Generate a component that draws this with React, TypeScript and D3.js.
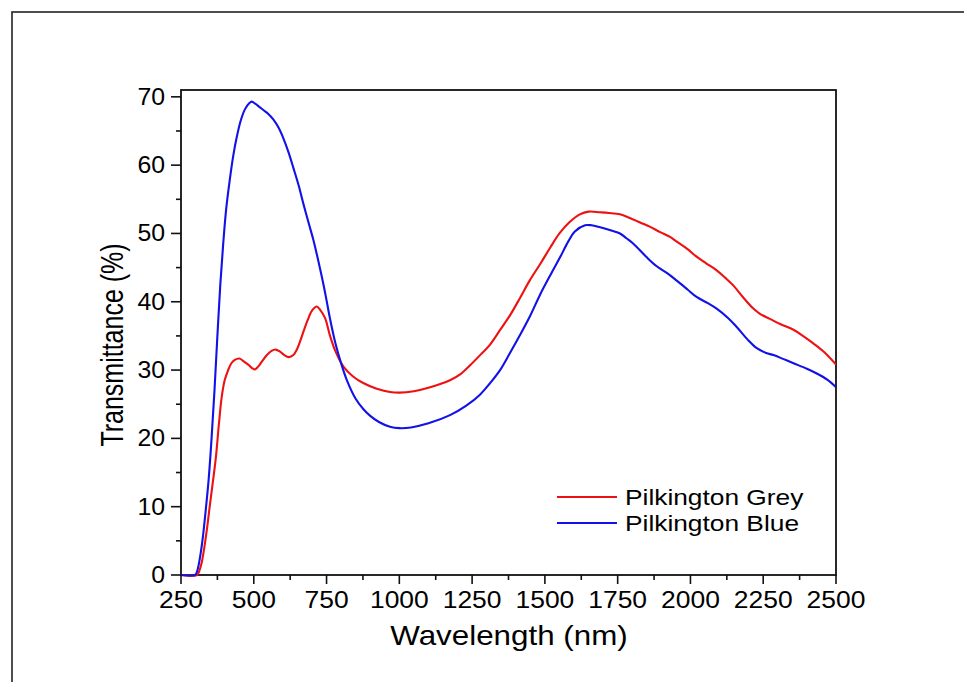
import React from "react";
import * as d3 from "d3";

// ---- data ----
const blueWavelength = [250, 298, 305, 315, 325, 335, 345, 355, 365, 375, 385, 395, 405, 418, 430, 441, 455, 470, 485, 493, 505, 520, 535, 550, 567, 585, 601, 620, 636, 655, 670, 690, 705, 720, 739, 750, 762, 780, 800, 820, 850, 876, 900, 930, 968, 1000, 1040, 1100, 1174, 1230, 1277, 1310, 1346, 1380, 1414, 1450, 1483, 1520, 1552, 1580, 1603, 1638, 1660, 1690, 1731, 1758, 1780, 1804, 1850, 1884, 1920, 1953, 1990, 2021, 2060, 2090, 2130, 2159, 2200, 2228, 2260, 2285, 2320, 2354, 2400, 2434, 2470, 2500];
const blueT = [0, 0, 0.5, 2.5, 5.5, 9.5, 14, 20, 27, 35, 42.5, 48.5, 53.5, 58, 61.5, 64, 66.5, 68.2, 69.1, 69.3, 69, 68.5, 68, 67.5, 66.7, 65.5, 64, 61.8, 59.6, 56.9, 54.4, 51.3, 49, 46.3, 42.6, 40.2, 37.5, 34, 31, 28.5, 25.8, 24.3, 23.3, 22.4, 21.7, 21.5, 21.6, 22.2, 23.4, 24.8, 26.4, 28, 30, 32.5, 35.1, 38, 41, 44, 46.5, 48.8, 50.3, 51.2, 51.2, 50.9, 50.4, 50, 49.3, 48.5, 46.5, 45.2, 44.2, 43.1, 41.8, 40.7, 39.8, 39, 37.6, 36.3, 34.3, 33.2, 32.5, 32.2, 31.6, 31, 30.2, 29.5, 28.6, 27.5];

const greyWavelength = [250, 305, 312, 321, 330, 340, 350, 360, 370, 380, 390, 400, 412, 423, 435, 450, 462, 481, 494, 504, 515, 527, 545, 561, 575, 590, 605, 620, 636, 648, 660, 672, 685, 700, 716, 728, 745, 762, 780, 808, 840, 876, 920, 968, 1000, 1050, 1100, 1174, 1210, 1243, 1280, 1311, 1345, 1380, 1415, 1449, 1485, 1518, 1550, 1586, 1620, 1650, 1690, 1720, 1758, 1790, 1827, 1860, 1896, 1930, 1953, 1990, 2021, 2055, 2090, 2120, 2147, 2180, 2216, 2240, 2273, 2310, 2354, 2390, 2422, 2460, 2500];
const greyT = [0, 0, 0.5, 1.8, 4, 7, 10.5, 13.8, 17.3, 22, 26.1, 28.5, 30, 31, 31.5, 31.7, 31.4, 30.8, 30.3, 30.1, 30.5, 31.2, 32.2, 32.8, 33, 32.7, 32.2, 31.9, 32.2, 33, 34.3, 35.8, 37.3, 38.7, 39.3, 38.8, 37.6, 35, 32.8, 30.5, 29.1, 28.1, 27.3, 26.8, 26.7, 26.9, 27.4, 28.5, 29.4, 30.7, 32.3, 33.7, 35.8, 38, 40.6, 43.2, 45.6, 47.9, 50, 51.7, 52.8, 53.2, 53.1, 53, 52.8, 52.3, 51.6, 51, 50.2, 49.5, 48.8, 47.7, 46.6, 45.6, 44.6, 43.5, 42.4, 40.7, 39, 38.2, 37.5, 36.7, 35.9, 34.9, 33.9, 32.6, 30.8];

const seriesNames = ["Pilkington Grey", "Pilkington Blue"];
const seriesColors = ["#ee1111", "#1111e8"];
const xMajorTicks = [250, 500, 750, 1000, 1250, 1500, 1750, 2000, 2250, 2500];
const xMinorTicks = [375, 625, 875, 1125, 1375, 1625, 1875, 2125, 2375];
const yMajorTicks = [0, 10, 20, 30, 40, 50, 60, 70];
const yMinorTicks = [5, 15, 25, 35, 45, 55, 65];
const xTitle = "Wavelength (nm)";
const yTitle = "Transmittance (%)";

const W = 964;
const H = 682;
const left = 181, right = 836, top = 90, bottom = 575;
const FONT = "'Liberation Sans', Arial, Helvetica, sans-serif";
const SX = 1.15;

export default function App() {
  const x = d3.scaleLinear().domain([250, 2500]).range([left, right]);
  const y = d3.scaleLinear().domain([0, 71]).range([bottom, top]);
  const line = d3
    .line<[number, number]>()
    .x((d) => x(d[0]))
    .y((d) => Math.min(y(d[1]), bottom))
    .curve(d3.curveCatmullRom.alpha(0.5));

  const grey: [number, number][] = greyWavelength.map((w, i) => [w, greyT[i]]);
  const blue: [number, number][] = blueWavelength.map((w, i) => [w, blueT[i]]);

  const label = (tx: number, ty: number, txt: string, anchor: string, key: string, size = 23, sx = SX) => (
    <g key={key} transform={`translate(${tx},${ty}) scale(${sx},1)`}>
      <text x={0} y={0} textAnchor={anchor} fontSize={size} fontFamily={FONT} fill="#000">
        {txt}
      </text>
    </g>
  );

  return (
    <svg width={W} height={H} style={{ position: "absolute", left: 0, top: 0, background: "#fff" }}>
      <rect x={0} y={0} width={W} height={H} fill="#fff" />
      <rect x={12} y={12} width={990} height={720} fill="none" stroke="#222" strokeWidth={1.6} />

      <defs>
        <clipPath id="plotclip">
          <rect x={left} y={top} width={right - left} height={bottom - top + 2} />
        </clipPath>
      </defs>

      <rect x={left} y={top} width={right - left} height={bottom - top} fill="none" stroke="#111" strokeWidth={1.8} />

      <g clipPath="url(#plotclip)">
        <path d={line(grey) || ""} fill="none" stroke={seriesColors[0]} strokeWidth={2.1} strokeLinejoin="round" />
        <path d={line(blue) || ""} fill="none" stroke={seriesColors[1]} strokeWidth={2.1} strokeLinejoin="round" />
      </g>

      {/* x ticks */}
      {xMajorTicks.map((t) => (
        <line key={"xM" + t} x1={x(t)} x2={x(t)} y1={bottom} y2={bottom + 9} stroke="#111" strokeWidth={1.6} />
      ))}
      {xMinorTicks.map((t) => (
        <line key={"xm" + t} x1={x(t)} x2={x(t)} y1={bottom} y2={bottom + 5} stroke="#111" strokeWidth={1.6} />
      ))}
      {xMajorTicks.map((t) => label(x(t), 608, String(t), "middle", "xl" + t))}

      {/* y ticks */}
      {yMajorTicks.map((t) => (
        <line key={"yM" + t} x1={left - 10} x2={left} y1={y(t)} y2={y(t)} stroke="#111" strokeWidth={1.6} />
      ))}
      {yMinorTicks.map((t) => (
        <line key={"ym" + t} x1={left - 5} x2={left} y1={y(t)} y2={y(t)} stroke="#111" strokeWidth={1.6} />
      ))}
      {yMajorTicks.map((t) => label(165, y(t) + 8, String(t), "end", "yl" + t, 23, 1.08))}

      {/* axis titles */}
      <g transform={`translate(509,645) scale(1.12,1)`}>
        <text textAnchor="middle" fontSize={28} fontFamily={FONT} fill="#000">
          {xTitle}
        </text>
      </g>
      <g transform={`translate(123,345) scale(1.22,1) rotate(-90)`}>
        <text textAnchor="middle" fontSize={25} fontFamily={FONT} fill="#000">
          {yTitle}
        </text>
      </g>

      {/* legend */}
      {seriesNames.map((name, i) => (
        <g key={name}>
          <line x1={557} x2={617} y1={497 + i * 26} y2={497 + i * 26} stroke={seriesColors[i]} strokeWidth={2} />
          {label(625, 505 + i * 26, name, "start", "lg" + i, 22.5, 1.17)}
        </g>
      ))}
    </svg>
  );
}
